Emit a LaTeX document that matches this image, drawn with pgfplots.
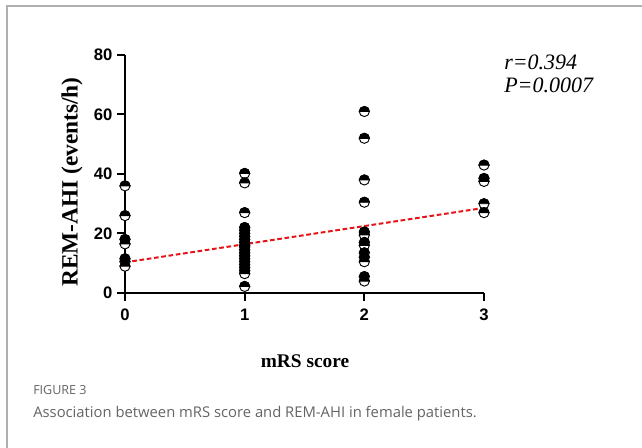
\documentclass[border=0pt]{standalone}
\usepackage{pgfplots}
\pgfplotsset{compat=1.18}
\usepackage{fontspec}
\setmainfont{Liberation Serif}
\setsansfont{Liberation Sans}
\newfontfamily\capfont{Open Sans}
\definecolor{capgray}{RGB}{100,100,100}
\definecolor{framegray}{RGB}{175,175,175}
\definecolor{regred}{RGB}{230,20,25}
\pgfdeclareplotmark{halfdisk}{%
  \pgfpathcircle{\pgfpointorigin}{\pgfplotmarksize}%
  \pgfsetfillcolor{white}\pgfusepathqfillstroke
  \pgfpathmoveto{\pgfqpoint{\pgfplotmarksize}{0pt}}%
  \pgfpatharc{0}{180}{\pgfplotmarksize}%
  \pgfpathclose
  \pgfsetfillcolor{black}\pgfusepathqfillstroke
}
\begin{document}
\begin{tikzpicture}[x=0.75pt,y=0.75pt]
\path[use as bounding box] (0,0) rectangle (642,448);
\draw[framegray, line width=0.8pt] (7,0) -- (7,442) -- (642,442);
\begin{axis}[
  at={(93.75pt,116.25pt)}, anchor=south west,
  scale only axis, width=269.25pt, height=178.5pt,
  xmin=0, xmax=3, ymin=0, ymax=80,
  axis lines=left,
  axis line style={line width=1.5pt, -},
  tick align=outside,
  major tick length=6pt,
  tick style={line width=1.5pt, black},
  xtick={0,1,2,3}, ytick={0,20,40,60,80},
  tick label style={font=\fontsize{12.5}{14}\selectfont\bfseries\sffamily},
  xticklabel style={yshift=-2.5pt},
  /pgf/number format/assume math mode=true,
  clip=false,
]
\addplot[only marks, mark=halfdisk, mark size=3.8pt, mark options={line width=0.7pt, draw=black}] table {
x y
0 36
0 26
0 18
0 16.5
0 11.5
0 10.5
0 9
1 40.2
1 37
1 27
1 22
1 21
1 20
1 19
1 18
1 17
1 16
1 15.5
1 14.5
1 13.5
1 12.5
1 11.5
1 10.5
1 9.5
1 8.5
1 7.5
1 6.5
1 2.2
2 61
2 52
2 38
2 30.5
2 20.5
2 19.5
2 17
2 16
2 13.5
2 12
2 10.5
2 5.5
2 4
3 43
3 38.5
3 37.5
3 30
3 27
};
\addplot[regred, line width=1.5pt, dash pattern=on 3.5pt off 2pt] coordinates {(0,10.3) (3,28.6)};
\end{axis}
\node[font=\fontsize{14.5}{16}\selectfont\bfseries] at (305,87) {mRS score};
\node[font=\fontsize{17.5}{20}\selectfont\bfseries, rotate=90] at (72,266) {REM-AHI (events/h)};
\node[anchor=base west, font=\fontsize{16.5}{18}\selectfont\itshape, inner sep=0pt] at (504,378) {r=0.394};
\node[anchor=base west, font=\fontsize{16.5}{18}\selectfont\itshape, inner sep=0pt] at (504,355) {P=0.0007};
\node[anchor=base west, font=\capfont\fontsize{9.4}{11}\selectfont, text=capgray, inner sep=0pt] at (33,53) {FIGURE 3};
\node[anchor=base west, font=\capfont\fontsize{11.1}{13}\selectfont, text=capgray, inner sep=0pt] at (33,30) {Association between mRS score and REM-AHI in female patients.};
\end{tikzpicture}
\end{document}
